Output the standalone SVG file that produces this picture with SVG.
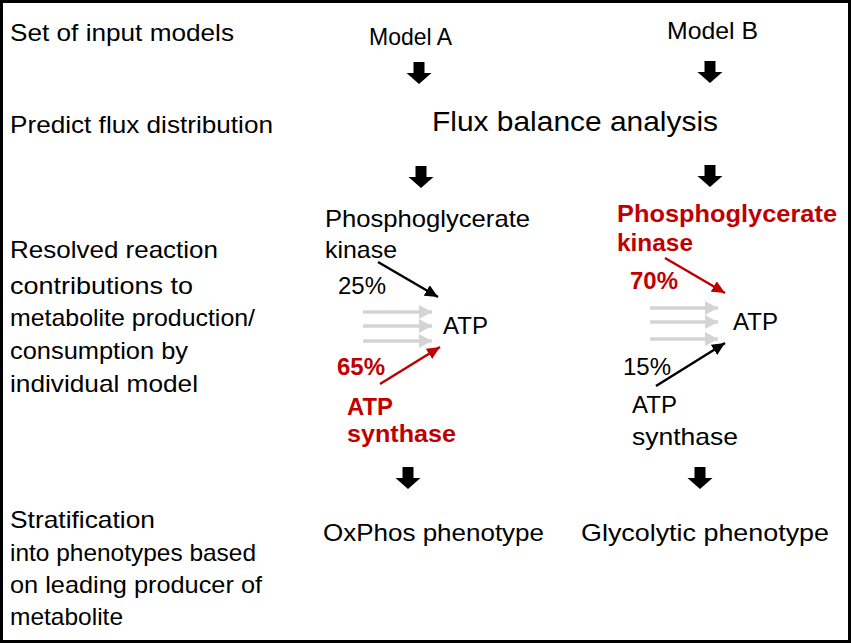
<svg xmlns="http://www.w3.org/2000/svg" width="851" height="643" viewBox="0 0 851 643">
<style>
.t{font-family:"Liberation Sans",Arial,sans-serif;font-size:24px;fill:#000}
.r{font-family:"Liberation Sans",Arial,sans-serif;font-size:24px;font-weight:bold;fill:#C00000}
.big{font-family:"Liberation Sans",Arial,sans-serif;font-size:28px;fill:#000}
.blk{stroke:#000;stroke-width:2.5;fill:none}
.red{stroke:#C00000;stroke-width:2.5;fill:none}
.gry{stroke:#d4d4d4;stroke-width:3.5;fill:none}
</style>
<defs>
<path id="barrow" d="M-5.5,0 H5.5 V11 H12.5 L0,22 L-12.5,11 H-5.5 Z" fill="#000"/>
<marker id="mb" markerUnits="userSpaceOnUse" markerWidth="14" markerHeight="12" refX="13" refY="6" orient="auto"><path d="M0,0 L13,6 L0,12 Z" fill="#000"/></marker>
<marker id="mr" markerUnits="userSpaceOnUse" markerWidth="14" markerHeight="12" refX="13" refY="6" orient="auto"><path d="M0,0 L13,6 L0,12 Z" fill="#C00000"/></marker>
<marker id="mg" markerUnits="userSpaceOnUse" markerWidth="14" markerHeight="14" refX="13" refY="7" orient="auto"><path d="M0,0 L13,7 L0,14 Z" fill="#d4d4d4"/></marker>
</defs>
<rect x="0" y="0" width="851" height="643" fill="#fff"/>
<rect x="1.5" y="1.5" width="848" height="640" fill="none" stroke="#000" stroke-width="3"/>

<g id="row-labels">
<text class="t" x="10" y="41" textLength="224" lengthAdjust="spacingAndGlyphs">Set of input models</text>
<text class="t" x="10" y="133" textLength="263" lengthAdjust="spacingAndGlyphs">Predict flux distribution</text>
<text class="t" x="10" y="258" textLength="208" lengthAdjust="spacingAndGlyphs">Resolved reaction</text>
<text class="t" x="10" y="294" textLength="183" lengthAdjust="spacingAndGlyphs">contributions to</text>
<text class="t" x="10" y="326" textLength="245" lengthAdjust="spacingAndGlyphs">metabolite production/</text>
<text class="t" x="10" y="359" textLength="178" lengthAdjust="spacingAndGlyphs">consumption by</text>
<text class="t" x="10" y="392" textLength="188" lengthAdjust="spacingAndGlyphs">individual model</text>
<text class="t" x="10" y="528" textLength="145" lengthAdjust="spacingAndGlyphs">Stratification</text>
<text class="t" x="10" y="561" textLength="246" lengthAdjust="spacingAndGlyphs">into phenotypes based</text>
<text class="t" x="10" y="593" textLength="252" lengthAdjust="spacingAndGlyphs">on leading producer of</text>
<text class="t" x="10" y="625" textLength="113" lengthAdjust="spacingAndGlyphs">metabolite</text>
</g>

<g id="modelA"><text class="t" x="369" y="45" textLength="83" lengthAdjust="spacingAndGlyphs">Model A</text></g>
<g id="modelB"><text class="t" x="667" y="39" textLength="91" lengthAdjust="spacingAndGlyphs">Model B</text></g>
<g id="fba"><text class="big" x="432" y="131" textLength="286" lengthAdjust="spacingAndGlyphs">Flux balance analysis</text></g>

<g id="A-pgk"><text class="t" x="325" y="227" textLength="205" lengthAdjust="spacingAndGlyphs">Phosphoglycerate</text><text class="t" x="325" y="258" textLength="72" lengthAdjust="spacingAndGlyphs">kinase</text></g>
<g id="A-atp"><text class="t" x="443" y="334">ATP</text></g>
<g id="A-atpsyn"><text class="r" x="347" y="415" textLength="46" lengthAdjust="spacingAndGlyphs">ATP</text><text class="r" x="347" y="442" textLength="109" lengthAdjust="spacingAndGlyphs">synthase</text></g>
<g id="B-pgk"><text class="r" x="617" y="222" textLength="220" lengthAdjust="spacingAndGlyphs">Phosphoglycerate</text><text class="r" x="617" y="251" textLength="76" lengthAdjust="spacingAndGlyphs">kinase</text></g>
<g id="B-atp"><text class="t" x="733" y="330">ATP</text></g>
<g id="B-atpsyn"><text class="t" x="632" y="413">ATP</text><text class="t" x="632" y="445" textLength="106" lengthAdjust="spacingAndGlyphs">synthase</text></g>
<g id="A-pheno"><text class="t" x="323" y="541" textLength="221" lengthAdjust="spacingAndGlyphs">OxPhos phenotype</text></g>
<g id="B-pheno"><text class="t" x="581" y="541" textLength="248" lengthAdjust="spacingAndGlyphs">Glycolytic phenotype</text></g>

<g id="connectors">
<use href="#barrow" x="419" y="62"/>
<use href="#barrow" x="710" y="61"/>
<use href="#barrow" x="421" y="166"/>
<use href="#barrow" x="710" y="165"/>
<use href="#barrow" x="408" y="467"/>
<use href="#barrow" x="700" y="467"/>
<line class="blk" x1="378" y1="262" x2="438" y2="297" marker-end="url(#mb)"/>
<line class="red" x1="380" y1="384" x2="440" y2="347" marker-end="url(#mr)"/>
<line class="red" x1="665" y1="258" x2="725" y2="293" marker-end="url(#mr)"/>
<line class="blk" x1="656" y1="386" x2="725" y2="343" marker-end="url(#mb)"/>
<line class="gry" x1="363" y1="312" x2="432" y2="312" marker-end="url(#mg)"/>
<line class="gry" x1="363" y1="326" x2="432" y2="326" marker-end="url(#mg)"/>
<line class="gry" x1="363" y1="341" x2="432" y2="341" marker-end="url(#mg)"/>
<line class="gry" x1="650" y1="308" x2="718" y2="308" marker-end="url(#mg)"/>
<line class="gry" x1="650" y1="322" x2="718" y2="322" marker-end="url(#mg)"/>
<line class="gry" x1="650" y1="339" x2="718" y2="339" marker-end="url(#mg)"/>
<text class="t" x="338" y="294">25%</text>
<text class="r" x="337" y="375">65%</text>
<text class="r" x="630" y="289">70%</text>
<text class="t" x="623" y="375">15%</text>
</g>
</svg>
